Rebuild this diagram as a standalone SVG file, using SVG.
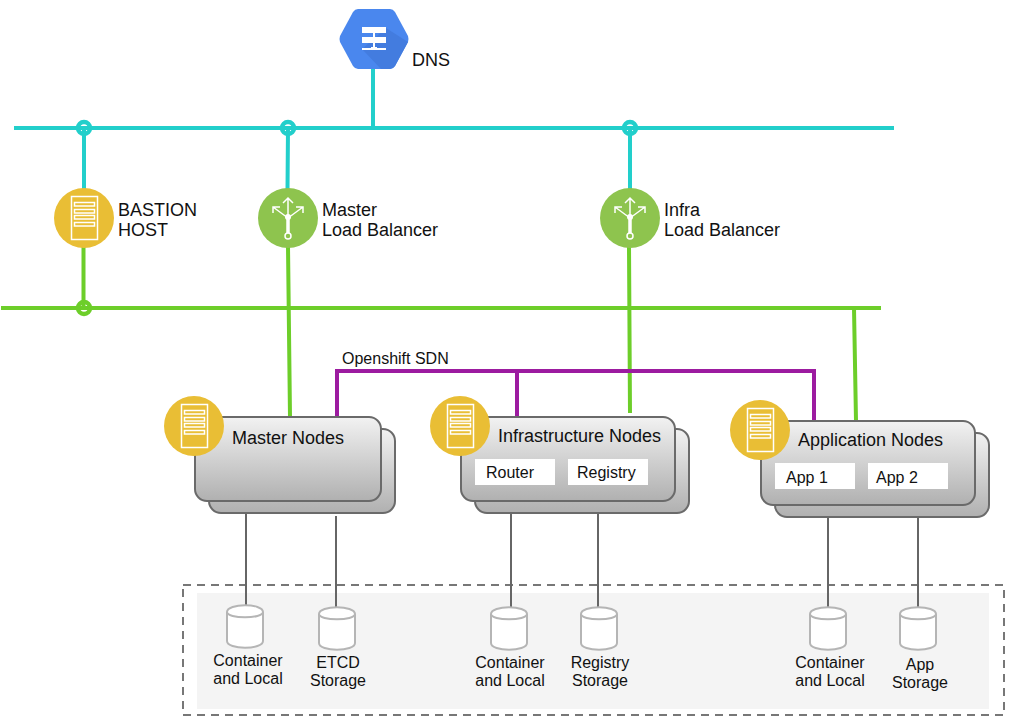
<svg xmlns="http://www.w3.org/2000/svg" xmlns:xlink="http://www.w3.org/1999/xlink" width="1018" height="724" viewBox="0 0 1018 724">
<style>
text{font-family:"Liberation Sans",Arial,sans-serif;fill:#111;font-size:18px}
.c{text-anchor:middle}
.s{font-size:16px}
.teal{stroke:#22cfcb;stroke-width:4;fill:none}
.green{stroke:#6dce2a;stroke-width:4;fill:none}
.dot{stroke-width:4.500}
.purple{stroke:#9c1ba0;stroke-width:4;fill:none}
.gray{stroke:#666;stroke-width:2;fill:none}
.node{fill:url(#g);stroke:#6a6a6a;stroke-width:2}
.lbl{fill:#fff}
.cyl{fill:#fff;stroke:#b5b5b5;stroke-width:2}
.ic{fill:none;stroke:#fff;stroke-width:1.5}
</style>
<defs>
<linearGradient id="g" x1="0" y1="0" x2="0" y2="1"><stop offset="0" stop-color="#f2f2f2"/><stop offset="1" stop-color="#b0b0b0"/></linearGradient>
<g id="srv"><circle r="30" fill="#e9be35"/><rect x="-12.500" y="-21.500" width="26" height="43" class="ic"/><rect x="-9.500" y="-15.500" width="20" height="3.500" class="ic"/><rect x="-9.500" y="-8.500" width="20" height="3.500" class="ic"/><rect x="-9.500" y="-2.500" width="20" height="3.500" class="ic"/><rect x="-9.500" y="4.500" width="20" height="3.500" class="ic"/></g>
<g id="lb"><circle r="30" fill="#8ec44e"/><path d="M0 16V-20M-5-15 0-20 5-15M0 0-15-11M-15-5V-11H-8M0 0 15-11M15-5V-11H8" class="ic"/><path d="M0 0V15" stroke="#fff" stroke-width="3.500"/><circle cy="-1" r="3" fill="#fff"/><circle cy="18" r="3" fill="#8ec44e" stroke="#fff" stroke-width="1.500"/></g>
<g id="cyl"><path class="cyl" d="M0 7C0 -2 36 -2 36 7V36C36 45 0 45 0 36Z"/><path class="cyl" d="M0 7C0 14 36 14 36 7" fill="none"/></g>
</defs>
<rect width="1018" height="724" fill="#fff"/>
<g id="storage"><rect x="197" y="593" width="792" height="116" fill="#f4f4f4"/><rect x="183" y="585" width="821" height="130" fill="none" stroke="#777" stroke-width="2" stroke-dasharray="8 6"/></g>
<g id="connectors">
<path class="teal" d="M14 128H894M373 68V128M84 128V190M288 128 287.500 190M630 128V190"/>
<circle class="teal dot" cx="84" cy="128" r="6"/><circle class="teal dot" cx="288" cy="128" r="6"/><circle class="teal dot" cx="630" cy="128" r="6"/>
<path class="green" d="M1 308H881M83.500 246V308M288 246 290 417M629 246 630 413M854 308 856 421"/>
<circle class="green dot" cx="84" cy="308" r="6"/>
<path class="purple" d="M337 417V371H814V421M517 371V417"/>
<path class="gray" d="M246 513V606M336 516V608M511 513V607M598 513V607M828 517V607M918 517V607"/>
</g>
<g id="dns"><path d="M358 9H390Q393 9 395 12L408 36Q409 39 408 42L395 66Q393 69 390 69H358Q355 69 353 66L340 42Q339 39 340 36L353 12Q355 9 358 9Z" fill="#4a87ee"/><path d="M386 28 408 42 395 66Q393 69 390 69H381L362 49Z" fill="#437cdf"/><path d="M362 27H386V33H362ZM362 37H386V43H362Z" fill="#fff"/><path d="M374 33V48M362 49H386M371 48H377" stroke="#fff" stroke-width="2"/><text x="412" y="66">DNS</text></g>
<g id="bastion"><use xlink:href="#srv" href="#srv" x="84" y="218"/><text x="118" y="216">BASTION</text><text x="118" y="236">HOST</text></g>
<g id="master-lb"><use xlink:href="#lb" href="#lb" x="288" y="218"/><text x="322" y="216">Master</text><text x="322" y="236">Load Balancer</text></g>
<g id="infra-lb"><use xlink:href="#lb" href="#lb" x="630" y="218"/><text x="664" y="216">Infra</text><text x="664" y="236">Load Balancer</text></g>
<text id="sdn" x="342" y="364" class="s">Openshift SDN</text>
<g id="master-nodes"><rect class="node" x="209" y="429" width="186" height="84" rx="12"/><rect class="node" x="195" y="417" width="186" height="84" rx="12"/><use xlink:href="#srv" href="#srv" x="194" y="426"/><text x="232" y="444">Master Nodes</text></g>
<g id="infra-nodes"><rect class="node" x="475" y="429" width="214" height="84" rx="12"/><rect class="node" x="461" y="417" width="214" height="84" rx="12"/><use xlink:href="#srv" href="#srv" x="460" y="426"/><text x="498" y="442">Infrastructure Nodes</text><rect class="lbl" x="475" y="459" width="80" height="26"/><rect class="lbl" x="568" y="459" width="80" height="26"/><text x="486" y="478" class="s">Router</text><text x="577" y="478" class="s">Registry</text></g>
<g id="app-nodes"><rect class="node" x="775" y="433" width="214" height="84" rx="12"/><rect class="node" x="761" y="421" width="214" height="84" rx="12"/><use xlink:href="#srv" href="#srv" x="760" y="430"/><text x="798" y="446">Application Nodes</text><rect class="lbl" x="775" y="463" width="80" height="26"/><rect class="lbl" x="868" y="463" width="80" height="26"/><text x="786" y="483" class="s">App 1</text><text x="876" y="483" class="s">App 2</text></g>
<g id="db1"><use xlink:href="#cyl" href="#cyl" x="227" y="605"/><text class="c s" x="248" y="666">Container</text><text class="c s" x="248" y="684">and Local</text></g>
<g id="db2"><use xlink:href="#cyl" href="#cyl" x="319" y="607"/><text class="c s" x="338" y="668">ETCD</text><text class="c s" x="338" y="686">Storage</text></g>
<g id="db3"><use xlink:href="#cyl" href="#cyl" x="491" y="607"/><text class="c s" x="510" y="668">Container</text><text class="c s" x="510" y="686">and Local</text></g>
<g id="db4"><use xlink:href="#cyl" href="#cyl" x="581" y="607"/><text class="c s" x="600" y="668">Registry</text><text class="c s" x="600" y="686">Storage</text></g>
<g id="db5"><use xlink:href="#cyl" href="#cyl" x="810" y="607"/><text class="c s" x="830" y="668">Container</text><text class="c s" x="830" y="686">and Local</text></g>
<g id="db6"><use xlink:href="#cyl" href="#cyl" x="900" y="607"/><text class="c s" x="920" y="670">App</text><text class="c s" x="920" y="688">Storage</text></g>
</svg>
